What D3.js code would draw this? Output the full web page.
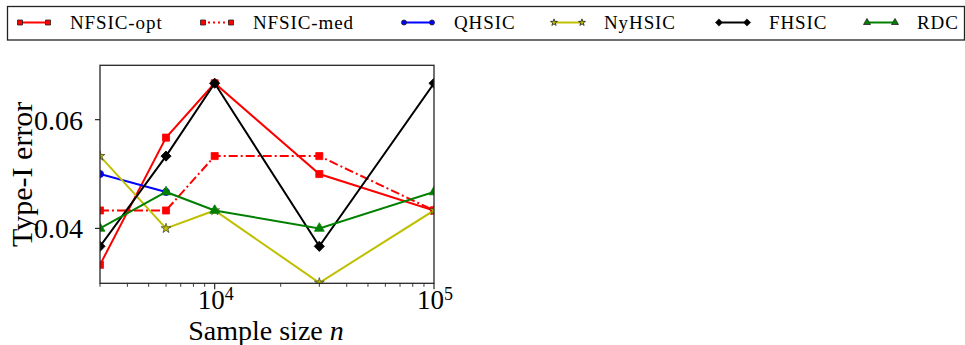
<!DOCTYPE html>
<html>
<head>
<meta charset="utf-8">
<script src="https://cdn.jsdelivr.net/npm/d3@7"></script>
<style>
  body { margin: 0; background: #fff; }
  svg { display: block; }
  text { font-family: 'Liberation Serif', 'Times New Roman', serif; }
</style>
</head>
<body>
<svg></svg>
<script>
const width = 965;
const height = 345;

// data
const sampleSizes = [3000, 6000, 10000, 30000, 100000];
const nfsicOpt = [0.0333, 0.0567, 0.0667, 0.0500, 0.0433];
const nfsicMed = [0.0433, 0.0433, 0.0533, 0.0533, 0.0433];
const qhsic = [0.0500, 0.0467];
const nyhsic = [0.0533, 0.0400, 0.0433, 0.0300, 0.0433];
const fhsic = [0.0367, 0.0533, 0.0667, 0.0367, 0.0667];
const rdc = [0.0400, 0.0467, 0.0433, 0.0400, 0.0467];
const yTicks = [0.04, 0.06];
const xTicks = [10000, 100000];

const series = [
    { name: "NFSIC-opt", values: nfsicOpt, color: "#ff0000", marker: "square", dash: null },
    { name: "NFSIC-med", values: nfsicMed, color: "#ff0000", marker: "square", dash: "9,3,2,3" },
    { name: "QHSIC", values: qhsic, color: "#0000ff", marker: "circle", dash: null },
    { name: "NyHSIC", values: nyhsic, color: "#bfbf00", marker: "star", dash: null },
    { name: "FHSIC", values: fhsic, color: "#000000", marker: "diamond", dash: null },
    { name: "RDC", values: rdc, color: "#008000", marker: "triangle", dash: null }
];

// layout
const plotLeft = 100, plotRight = 434, plotTop = 65.3, plotBottom = 283.3;
const legendX = [20, 203, 404, 554, 719, 867];

let svg = d3.select("svg").attr("width", width).attr("height", height);

const scX = d3.scaleLog().domain([3000, 100000]).range([plotLeft, plotRight]);
const scY = d3.scaleLinear().domain([0.0299, 0.07]).range([plotBottom, plotTop]);

const symbols = {
    square: d3.symbol().type(d3.symbolSquare),
    circle: d3.symbol().type(d3.symbolCircle),
    star: d3.symbol().type(d3.symbolStar),
    diamond: d3.symbol().type(d3.symbolSquare),
    triangle: d3.symbol().type(d3.symbolTriangle)
};
const markerSize = { square: 50, circle: 40, star: 30, diamond: 52, triangle: 42 };

function markerTransform(kind, x, y) {
    return `translate(${x},${y})` + (kind === "diamond" ? " rotate(45)" : "");
}

svg.append("defs").append("clipPath").attr("id", "plotclip")
    .append("rect")
    .attr("x", plotLeft).attr("y", plotTop)
    .attr("width", plotRight - plotLeft).attr("height", plotBottom - plotTop);

// data lines
let plot = svg.append("g").attr("clip-path", "url(#plotclip)");
const line = d3.line().x(d => scX(d[0])).y(d => scY(d[1]));

series.forEach(s => {
    const pts = s.values.map((v, i) => [sampleSizes[i], v]);
    plot.append("path")
        .attr("d", line(pts))
        .attr("fill", "none")
        .attr("stroke", s.color)
        .attr("stroke-width", 2)
        .attr("stroke-dasharray", s.dash);
    plot.selectAll(null)
        .data(pts)
        .enter()
        .append("path")
        .attr("d", symbols[s.marker].size(markerSize[s.marker])())
        .attr("transform", d => markerTransform(s.marker, scX(d[0]), scY(d[1])))
        .attr("fill", s.color)
        .attr("stroke", s.marker === "star" ? "#222" : s.color)
        .attr("stroke-width", s.marker === "star" ? 0.6 : 0.8);
});

// frame
svg.append("rect")
    .attr("x", plotLeft).attr("y", plotTop)
    .attr("width", plotRight - plotLeft).attr("height", plotBottom - plotTop)
    .attr("fill", "none").attr("stroke", "#262626").attr("stroke-width", 1.3);

// y axis ticks
let yAxis = svg.append("g");
yTicks.forEach(t => {
    yAxis.append("line")
        .attr("x1", plotLeft - 5).attr("x2", plotLeft)
        .attr("y1", scY(t)).attr("y2", scY(t))
        .attr("stroke", "#262626").attr("stroke-width", 1.2);
    yAxis.append("text")
        .attr("x", 83).attr("y", scY(t) + 10)
        .attr("text-anchor", "end")
        .style("font-size", "28px")
        .text(d3.format(".2f")(t));
});

// x axis ticks (major + minor)
let xAxis = svg.append("g");
const minor = [];
[1000, 10000].forEach(dec => {
    for (let k = 2; k <= 9; k++) {
        const v = dec * k;
        if (v >= 3000 && v <= 100000) minor.push(v);
    }
});
minor.forEach(t => {
    xAxis.append("line")
        .attr("x1", scX(t)).attr("x2", scX(t))
        .attr("y1", plotBottom).attr("y2", plotBottom + 3.5)
        .attr("stroke", "#262626").attr("stroke-width", 0.9);
});
xTicks.forEach(t => {
    xAxis.append("line")
        .attr("x1", scX(t)).attr("x2", scX(t))
        .attr("y1", plotBottom).attr("y2", plotBottom + 6)
        .attr("stroke", "#262626").attr("stroke-width", 1.2);
    let txt = xAxis.append("text")
        .attr("x", scX(t) + 1).attr("y", 308.5)
        .attr("text-anchor", "middle")
        .style("font-size", "27px");
    txt.append("tspan").text("10");
    txt.append("tspan")
        .attr("dy", -9)
        .style("font-size", "18px")
        .text(Math.round(Math.log10(t)));
});

// axis labels
let xLabel = svg.append("text")
    .attr("x", (plotLeft + plotRight) / 2 - 1).attr("y", 339.5)
    .attr("text-anchor", "middle")
    .style("font-size", "28px");
xLabel.append("tspan").text("Sample size ");
xLabel.append("tspan").style("font-style", "italic").text("n");

svg.append("text")
    .attr("transform", `translate(32, ${(plotTop + plotBottom) / 2}) rotate(-90)`)
    .attr("text-anchor", "middle")
    .style("font-size", "30px")
    .text("Type-I error");

// legend
let legend = svg.append("g");
legend.append("rect")
    .attr("x", 7.5).attr("y", 6.5)
    .attr("width", 957).attr("height", 33.5)
    .attr("fill", "#fff").attr("stroke", "#222").attr("stroke-width", 1.3);

series.forEach((s, i) => {
    const x0 = legendX[i];
    const ly = 22.5;
    legend.append("line")
        .attr("x1", x0).attr("x2", x0 + 28)
        .attr("y1", ly).attr("y2", ly)
        .attr("stroke", s.color).attr("stroke-width", 2)
        .attr("stroke-dasharray", s.dash ? "2,3" : null);
    [x0, x0 + 28].forEach(mx => {
        legend.append("path")
            .attr("d", symbols[s.marker].size(markerSize[s.marker] * 0.5)())
            .attr("transform", markerTransform(s.marker, mx, ly))
            .attr("fill", s.color)
            .attr("stroke", "#222")
            .attr("stroke-width", 0.8);
    });
    legend.append("text")
        .attr("x", x0 + 50).attr("y", 28.5)
        .style("font-size", "19px")
        .style("letter-spacing", "0.9px")
        .text(s.name);
});
</script>
</body>
</html>
